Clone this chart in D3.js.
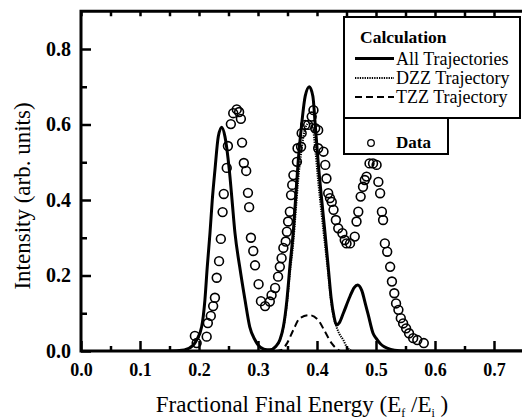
<!DOCTYPE html>
<html><head><meta charset="utf-8">
<script src="https://cdn.jsdelivr.net/npm/d3@7"></script>
<style>body{margin:0;background:#fff}svg{display:block}svg text{font-family:"Liberation Serif","DejaVu Serif","Times New Roman",serif}</style>
</head><body><svg id="c" width="522" height="420"></svg>
<script>
// ---- data ----
const xTickValues = [0, 0.1, 0.2, 0.3, 0.4, 0.5, 0.6, 0.7];
const xTickLabels = ["0.0", "0.1", "0.2", "0.3", "0.4", "0.5", "0.6", "0.7"];
const xMinorTicks = [0.05, 0.15, 0.25, 0.35, 0.45, 0.55, 0.65];
const yTickValues = [0, 0.2, 0.4, 0.6, 0.8];
const yTickLabels = ["0.0", "0.2", "0.4", "0.6", "0.8"];
const yMinorTicks = [0.1, 0.3, 0.5, 0.7];

const dataX = [0.193,0.196,0.213,0.215,0.220,0.224,0.227,0.230,0.234,0.237,0.240,0.242,0.247,0.249,0.254,0.258,0.264,0.268,0.271,0.273,0.276,0.280,0.283,0.285,0.288,0.292,0.295,0.301,0.305,0.312,0.320,0.323,0.329,0.334,0.337,0.340,0.343,0.347,0.349,0.351,0.354,0.356,0.358,0.360,0.366,0.367,0.373,0.374,0.380,0.385,0.391,0.394,0.397,0.402,0.402,0.411,0.414,0.416,0.419,0.422,0.425,0.428,0.432,0.436,0.443,0.447,0.450,0.456,0.464,0.467,0.470,0.474,0.478,0.481,0.484,0.489,0.495,0.501,0.504,0.507,0.510,0.512,0.515,0.519,0.524,0.527,0.531,0.534,0.538,0.542,0.546,0.551,0.556,0.563,0.570,0.581];
const dataY = [0.040,0.021,0.038,0.074,0.093,0.119,0.141,0.194,0.238,0.297,0.368,0.416,0.485,0.543,0.601,0.630,0.640,0.633,0.615,0.552,0.498,0.477,0.419,0.381,0.300,0.265,0.227,0.177,0.132,0.119,0.131,0.148,0.167,0.197,0.223,0.246,0.273,0.290,0.316,0.343,0.369,0.413,0.440,0.466,0.501,0.537,0.541,0.577,0.599,0.599,0.621,0.638,0.590,0.585,0.537,0.528,0.493,0.457,0.418,0.405,0.395,0.374,0.347,0.325,0.312,0.294,0.285,0.285,0.303,0.343,0.369,0.409,0.435,0.453,0.462,0.497,0.497,0.493,0.448,0.418,0.369,0.347,0.285,0.263,0.223,0.184,0.153,0.126,0.109,0.087,0.073,0.060,0.047,0.034,0.029,0.021];

const allX = [0.10,0.15,0.175,0.19,0.196,0.2045,0.21,0.214,0.2186,0.2225,0.227,0.2327,0.2385,0.244,0.2514,0.256,0.261,0.269,0.278,0.286,0.295,0.30,0.31,0.32,0.33,0.337,0.343,0.349,0.354,0.36,0.364,0.368,0.374,0.38,0.387,0.393,0.397,0.402,0.408,0.4136,0.419,0.424,0.429,0.433,0.438,0.4446,0.456,0.463,0.469,0.476,0.482,0.487,0.495,0.50,0.507,0.514,0.525,0.54,0.56,0.75];
const allY = [0,0,0.003,0.015,0.029,0.064,0.135,0.223,0.312,0.40,0.479,0.568,0.593,0.568,0.479,0.40,0.312,0.223,0.135,0.064,0.029,0.016,0.005,0.003,0.012,0.029,0.064,0.135,0.223,0.32,0.41,0.50,0.60,0.675,0.70,0.675,0.60,0.50,0.40,0.312,0.223,0.14,0.09,0.069,0.075,0.10,0.145,0.168,0.175,0.16,0.125,0.095,0.047,0.034,0.02,0.011,0.004,0.001,0,0];

const dzzX = [0.18,0.30,0.32,0.33,0.337,0.343,0.349,0.354,0.36,0.364,0.368,0.374,0.38,0.387,0.393,0.397,0.402,0.408,0.4136,0.419,0.424,0.429,0.433,0.438,0.4446,0.45,0.455,0.46,0.50];
const dzzY = [0,0,0.003,0.012,0.029,0.062,0.125,0.205,0.29,0.37,0.45,0.535,0.59,0.605,0.59,0.535,0.45,0.36,0.28,0.205,0.13,0.085,0.064,0.045,0.029,0.012,0.004,0,0];

const tzzX = [0.33,0.34,0.349,0.36,0.371,0.387,0.402,0.4136,0.425,0.435,0.44,0.45];
const tzzY = [0,0.003,0.02,0.056,0.087,0.095,0.082,0.051,0.02,0.004,0,0];

const legendCalc = ["All Trajectories", "DZZ Trajectory", "TZZ Trajectory"];
const legendStyles = ["solid", "dotted", "dashed"];

// ---- drawing ----
const svg = d3.select("#c");
const x = d3.scaleLinear().domain([0, 0.75]).range([81, 523.5]);
const y = d3.scaleLinear().domain([0, 0.9]).range([351, 11.25]);

const line = d3.line().x(d => x(d[0])).y(d => y(d[1])).curve(d3.curveMonotoneX);
const zip = (a, b) => a.map((v, i) => [v, b[i]]);

svg.append("clipPath").attr("id","clip").append("rect")
  .attr("x", x(0)).attr("y", y(0.9)).attr("width", x(0.75)-x(0)).attr("height", y(0)-y(0.9));

const plot = svg.append("g").attr("clip-path","url(#clip)");

plot.append("path").datum(zip(dzzX, dzzY)).attr("d", line)
  .attr("fill","none").attr("stroke","#000").attr("stroke-width",2).attr("stroke-dasharray","1.3,1.1");
plot.append("path").datum(zip(tzzX, tzzY)).attr("d", line)
  .attr("fill","none").attr("stroke","#000").attr("stroke-width",2).attr("stroke-dasharray","7,4");
plot.append("path").datum(zip(allX, allY)).attr("d", line)
  .attr("fill","none").attr("stroke","#000").attr("stroke-width",3);

plot.selectAll("circle.d").data(zip(dataX, dataY)).join("circle").attr("class","d")
  .attr("cx", d => x(d[0])).attr("cy", d => y(d[1])).attr("r", 4.4)
  .attr("fill","none").attr("stroke","#000").attr("stroke-width",1.6);

// axes
const axB = d3.axisBottom(x).tickValues(xTickValues).tickFormat((d,i)=>xTickLabels[i]).tickSizeInner(-10).tickSizeOuter(0).tickPadding(12);
const gB = svg.append("g").attr("transform",`translate(0,${y(0)})`).call(axB);
gB.selectAll("text").style("font-family",'"Liberation Serif","DejaVu Serif",serif').attr("font-weight","bold").attr("font-size","18px").attr("fill","#000");
const axBm = d3.axisBottom(x).tickValues(xMinorTicks).tickFormat("").tickSizeInner(-5).tickSizeOuter(0);
svg.append("g").attr("transform",`translate(0,${y(0)})`).call(axBm);
const axT = d3.axisTop(x).tickValues(xTickValues.concat(xMinorTicks)).tickFormat("").tickSizeInner(-5).tickSizeOuter(0);
svg.append("g").attr("transform",`translate(0,${y(0.9)})`).call(axT);

const axL = d3.axisLeft(y).tickValues(yTickValues).tickFormat((d,i)=>yTickLabels[i]).tickSizeInner(-10).tickSizeOuter(0).tickPadding(10);
const gL = svg.append("g").attr("transform",`translate(${x(0)},0)`).call(axL);
gL.selectAll("text").style("font-family",'"Liberation Serif","DejaVu Serif",serif').attr("font-weight","bold").attr("font-size","20px").attr("fill","#000");
const axLm = d3.axisLeft(y).tickValues(yMinorTicks).tickFormat("").tickSizeInner(-6).tickSizeOuter(0);
svg.append("g").attr("transform",`translate(${x(0)},0)`).call(axLm);

svg.selectAll(".domain").remove();
svg.selectAll(".tick line").attr("stroke","#000").attr("stroke-width",2.5);

// frame
svg.append("rect").attr("x", x(0)).attr("y", y(0.9)).attr("width", x(0.75)-x(0)).attr("height", y(0)-y(0.9))
  .attr("fill","none").attr("stroke","#000").attr("stroke-width",3);

// axis titles
const xt = svg.append("text").attr("x", 302).attr("y", 412).attr("text-anchor","middle")
  .attr("font-size","23px").attr("fill","#000");
xt.append("tspan").text("Fractional Final Energy (E");
xt.append("tspan").attr("font-size","12px").attr("dy",5).text("f");
xt.append("tspan").attr("dy",-5).text(" /E");
xt.append("tspan").attr("font-size","12px").attr("dy",5).text("i");
xt.append("tspan").attr("dy",-5).text(" )");

svg.append("text").attr("transform","translate(30,196) rotate(-90)").attr("text-anchor","middle")
  .attr("font-size","23px").attr("fill","#000").text("Intensity (arb. units)");

// legend
const lg = svg.append("g");
lg.append("rect").attr("x",344).attr("y",17).attr("width",176).attr("height",101)
  .attr("fill","#fff").attr("stroke","#000").attr("stroke-width",2);
lg.append("rect").attr("x",344).attr("y",118).attr("width",104).attr("height",36)
  .attr("fill","#fff").attr("stroke","#000").attr("stroke-width",2);
lg.append("text").attr("x",360).attr("y",43).attr("font-weight","bold")
  .attr("font-size","17.5px").attr("fill","#000").text("Calculation");
const rowsY = [58.5, 78, 97];
legendCalc.forEach((t, i) => {
  const ln = lg.append("line").attr("x1",355).attr("x2",394).attr("y1",rowsY[i]).attr("y2",rowsY[i])
    .attr("stroke","#000");
  if (legendStyles[i] === "solid") ln.attr("stroke-width",3);
  if (legendStyles[i] === "dotted") ln.attr("stroke-width",2).attr("stroke-dasharray","1.3,1.1");
  if (legendStyles[i] === "dashed") ln.attr("stroke-width",2).attr("stroke-dasharray","7,4");
  lg.append("text").attr("x",396).attr("y",rowsY[i]+6)
    .attr("font-size","18px").attr("fill","#000").text(t);
});
lg.append("circle").attr("cx",371).attr("cy",143).attr("r",3.3).attr("fill","none").attr("stroke","#000").attr("stroke-width",1.3);
lg.append("text").attr("x",396).attr("y",148).attr("font-weight","bold")
  .attr("font-size","17px").attr("fill","#000").text("Data");
</script></body></html>
